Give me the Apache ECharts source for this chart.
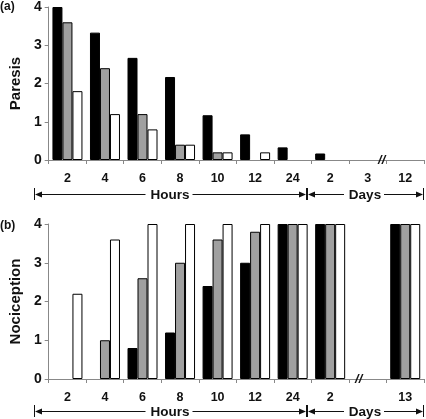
<!DOCTYPE html>
<html><head><meta charset="utf-8">
<script src="https://cdn.jsdelivr.net/npm/echarts@6/dist/echarts.min.js"></script>
<style>html,body{margin:0;padding:0;background:#fff}#c{width:426px;height:419px}</style>
</head><body><div id="c"></div>
<script>
// Panel (a) Paresis
const catsA = ['2','4','6','8','10','12','24','2','3','12'];
const paresisBlack = [4, 3.33, 2.67, 2.17, 1.17, 0.67, 0.33, 0.17, 0, 0];
const paresisGrey  = [3.6, 2.4, 1.2, 0.4, 0.2, 0, 0, 0, 0, 0];
const paresisWhite = [1.8, 1.2, 0.8, 0.4, 0.2, 0.2, 0, 0, 0, 0];
// Panel (b) Nociception
const catsB = ['2','4','6','8','10','12','24','2','','13'];
const nociBlack = [0, 0, 0.8, 1.2, 2.4, 3.0, 4, 4, null, 4];
const nociGrey  = [0, 1, 2.6, 3.0, 3.6, 3.8, 4, 4, null, 4];
const nociWhite = [2.2, 3.6, 4, 4, 4, 4, 4, 4, null, 4];
const yTicks = [0, 1, 2, 3, 4];

const FONT = 'Liberation Sans';
const chart = echarts.init(document.getElementById('c'), null, {renderer: 'canvas'});

function xAxis(idx, cats) {
  return {
    type: 'category', gridIndex: idx, data: cats,
    axisLine: {lineStyle: {color: '#888', width: 1}},
    axisTick: {show: true, length: 4, lineStyle: {color: '#888'}},
    axisLabel: {color: '#111', fontFamily: FONT, fontWeight: 'bold', fontSize: 12.5, margin: 12, interval: 0}
  };
}
function yAxis(idx, name) {
  return {
    type: 'value', gridIndex: idx, min: yTicks[0], max: yTicks[yTicks.length - 1], interval: 1,
    name: name, nameLocation: 'middle', nameGap: 17, nameRotate: 90,
    nameTextStyle: {color: '#111', fontFamily: FONT, fontWeight: 'bold', fontSize: 15},
    splitLine: {show: false},
    axisLine: {show: true, lineStyle: {color: '#888', width: 1}},
    axisTick: {show: true, length: 4, lineStyle: {color: '#888'}},
    axisLabel: {color: '#111', fontFamily: FONT, fontWeight: 'bold', fontSize: 14, margin: 7}
  };
}
function items(arr) {
  return arr.map(v => (v === 0 || v === null) ? {value: v, itemStyle: {borderWidth: 0, opacity: 0}} : v);
}
function bar(idx, data, color, extra) {
  return Object.assign({
    type: 'bar', xAxisIndex: idx, yAxisIndex: idx, data: items(data),
    barWidth: 10, barGap: '0%',
    itemStyle: {color: color, borderColor: '#000', borderWidth: 1},
    silent: true, animation: false
  }, extra || {});
}
function breakMark(x, offsetX) {
  return {
    symbol: 'circle', symbolSize: 1, silent: true, animation: false,
    itemStyle: {color: 'rgba(0,0,0,0)'},
    label: {show: true, position: 'inside', formatter: '//', offset: [offsetX, 0],
      color: '#111', fontFamily: FONT, fontWeight: 'bold', fontStyle: 'italic', fontSize: 13},
    data: [{coord: [x, 0], value: 0}]
  };
}

// bracket annotations (Hours / Days)
function bracket(y, x0, x1, text, tw) {
  const mid = (x0 + x1) / 2;
  const els = [];
  const ls = {stroke: '#111', lineWidth: 1};
  els.push({type: 'line', shape: {x1: x0 + 0.5, y1: y - 6, x2: x0 + 0.5, y2: y + 6}, style: ls});
  els.push({type: 'line', shape: {x1: x1 + 0.5, y1: y - 6, x2: x1 + 0.5, y2: y + 6}, style: ls});
  els.push({type: 'line', shape: {x1: x0 + 2, y1: y + 0.5, x2: mid - tw / 2 - 5, y2: y + 0.5}, style: ls});
  els.push({type: 'line', shape: {x1: mid + tw / 2 + 3, y1: y + 0.5, x2: x1 - 2, y2: y + 0.5}, style: ls});
  els.push({type: 'polygon', shape: {points: [[x0 + 1, y + 0.5], [x0 + 8, y - 2.5], [x0 + 8, y + 3.5]]}, style: {fill: '#111'}});
  els.push({type: 'polygon', shape: {points: [[x1, y + 0.5], [x1 - 7, y - 2.5], [x1 - 7, y + 3.5]]}, style: {fill: '#111'}});
  els.push({type: 'text', x: mid, y: y + 1, style: {text: text, fill: '#111', font: 'bold 13.5px ' + FONT, align: 'center', verticalAlign: 'middle'}});
  return els;
}

const graphics = [
  {type: 'text', left: 0, top: 1, style: {text: '(a)', fill: '#111', font: 'bold 12px ' + FONT}},
  {type: 'text', left: 0, top: 220, style: {text: '(b)', fill: '#111', font: 'bold 12px ' + FONT}}
].concat(bracket(194, 34, 306, 'Hours', 39), bracket(194, 307, 423, 'Days', 32),
         bracket(411, 34, 306, 'Hours', 39), bracket(411, 307, 423, 'Days', 32));

chart.setOption({
  animation: false,
  backgroundColor: '#fff',
  grid: [
    {left: 34, right: 2, top: 5, height: 155},
    {left: 34, right: 2, top: 224, height: 155}
  ],
  xAxis: [xAxis(0, catsA), xAxis(1, catsB)],
  yAxis: [yAxis(0, 'Paresis'), yAxis(1, 'Nociception')],
  series: [
    bar(0, paresisBlack, '#000', {markPoint: breakMark(8, 24)}),
    bar(0, paresisGrey, '#a0a0a0'),
    bar(0, paresisWhite, '#fff'),
    bar(1, nociBlack, '#000', {markPoint: breakMark(8, 1)}),
    bar(1, nociGrey, '#a0a0a0'),
    bar(1, nociWhite, '#fff')
  ],
  graphic: graphics
});
</script></body></html>
